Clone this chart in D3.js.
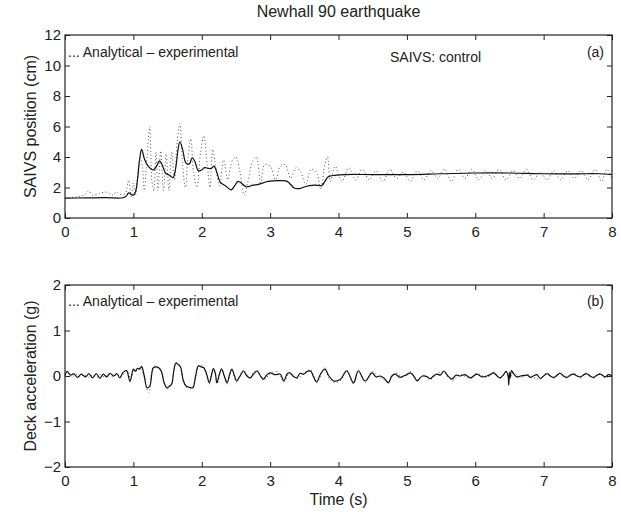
<!DOCTYPE html>
<meta charset="utf-8">
<style>
body { margin: 0; background: #fff; }
text { font-family: "Liberation Sans", Arial, sans-serif; fill: #222; }
.frame { fill: none; stroke: #222; stroke-width: 1.2px; }
.tick line { stroke: #222; }
.solid { fill: none; stroke: #111; stroke-width: 1.2px; }
.dotted { fill: none; stroke: #555; stroke-width: 1px; stroke-dasharray: 1,2.5; }
</style>
<svg width="621" height="512"></svg>
<script src="https://cdn.jsdelivr.net/npm/d3@7"></script>
<script>
var width = 621, height = 512;

// (a) SAIVS position, cm   [time s, value]
var posExperimental = [[0,1.3],[0.3,1.32],[0.6,1.33],[0.85,1.33],[0.9,1.45],[0.93,1.65],[0.97,1.55],[1.0,1.5],[1.03,1.7],
  [1.06,2.5],[1.09,3.8],[1.12,4.5],[1.16,3.9],[1.2,3.5],[1.25,3.25],[1.29,3.15],[1.34,3.4],[1.38,3.75],[1.42,3.5],
  [1.47,2.95],[1.53,2.8],[1.58,2.65],[1.62,3.3],[1.65,4.4],[1.68,5.0],[1.72,4.5],[1.77,3.6],[1.82,3.55],[1.86,3.95],
  [1.9,3.7],[1.95,3.1],[2.0,3.15],[2.04,3.3],[2.1,3.25],[2.14,3.25],[2.18,3.4],[2.22,3.0],[2.27,2.35],[2.35,2.1],
  [2.43,1.85],[2.48,2.1],[2.53,2.4],[2.59,2.25],[2.65,2.05],[2.75,2.15],[2.83,2.2],[2.97,2.4],[3.17,2.45],[3.25,2.4],
  [3.36,1.95],[3.45,1.95],[3.51,2.05],[3.65,2.15],[3.76,2.15],[3.8,2.4],[3.85,2.7],[3.95,2.8],[4.1,2.85],[4.5,2.85],
  [5.0,2.85],[5.5,2.9],[6.0,2.95],[6.5,2.95],[7.0,2.9],[7.5,2.9],[7.8,2.9],[8.0,2.85]];

var posAnalytical = [[0,1.3],[0.1,1.35],[0.2,1.4],[0.3,1.55],[0.35,1.8],[0.4,1.5],[0.5,1.6],[0.6,1.7],[0.7,1.5],[0.75,1.7],
  [0.8,1.55],[0.88,1.6],[0.93,2.5],[0.97,1.4],[1.0,2.3],[1.03,1.5],[1.07,3.0],[1.1,4.0],[1.13,3.5],[1.16,1.8],[1.2,4.0],
  [1.24,6.0],[1.27,2.5],[1.3,1.8],[1.33,4.3],[1.36,1.8],[1.4,4.4],[1.44,1.8],[1.48,4.2],[1.52,1.8],[1.56,4.3],[1.6,2.5],
  [1.64,5.0],[1.68,6.2],[1.72,3.5],[1.76,2.0],[1.8,4.0],[1.84,5.2],[1.88,3.0],[1.93,2.0],[1.98,4.2],[2.03,5.4],[2.08,3.5],
  [2.12,2.0],[2.16,4.5],[2.2,3.5],[2.26,2.1],[2.32,3.8],[2.38,2.5],[2.44,3.7],[2.5,4.0],[2.56,3.0],[2.62,1.5],[2.68,2.5],
  [2.75,3.8],[2.8,4.0],[2.86,2.3],[2.92,3.5],[3.0,3.4],[3.08,2.5],[3.15,3.4],[3.22,3.5],[3.3,2.6],[3.38,3.3],[3.45,3.0],
  [3.52,2.2],[3.6,3.2],[3.68,3.0],[3.74,1.9],[3.8,3.5],[3.84,4.0],[3.88,2.4],[3.95,3.4],[4.05,2.4],[4.15,3.3],[4.25,2.5],
  [4.35,3.2],[4.45,2.5],[4.55,3.1],[4.65,2.4],[4.75,3.2],[4.85,2.6],[4.95,3.0],[5.05,2.4],[5.15,3.1],[5.25,2.5],
  [5.35,3.1],[5.45,2.6],[5.55,3.2],[5.65,2.4],[5.75,3.2],[5.85,2.6],[5.95,3.2],[6.05,2.5],[6.15,3.1],[6.25,2.6],
  [6.35,3.2],[6.45,2.5],[6.55,3.1],[6.65,2.6],[6.75,3.2],[6.85,2.5],[6.95,3.0],[7.05,2.5],[7.15,3.1],[7.25,2.5],
  [7.35,3.1],[7.45,2.6],[7.55,3.1],[7.65,2.5],[7.75,3.2],[7.85,2.4],[7.92,3.2],[8.0,2.6]];

// (b) deck acceleration, g   [time s, value]
var accExperimental = [[0,0],[0.03,0.1],[0.08,0.02],[0.13,0.05],[0.18,-0.03],[0.24,0.04],[0.3,-0.02],[0.35,0.05],
  [0.4,-0.04],[0.46,0.05],[0.51,-0.05],[0.56,0.04],[0.61,-0.02],[0.66,0.06],[0.71,0.0],[0.76,0.05],[0.8,-0.04],
  [0.85,0.08],[0.9,0.12],[0.95,-0.12],[1.0,0.15],[1.03,0.1],[1.06,0.17],[1.09,0.15],[1.12,0.21],[1.16,0.0],[1.2,-0.26],
  [1.24,-0.22],[1.29,0.18],[1.33,0.2],[1.37,0.18],[1.41,0.1],[1.45,-0.15],[1.49,-0.26],[1.53,-0.22],[1.56,-0.18],
  [1.59,0.1],[1.62,0.28],[1.66,0.25],[1.69,0.2],[1.73,-0.1],[1.77,-0.22],[1.82,-0.25],[1.87,-0.26],[1.91,0.0],
  [1.95,0.22],[1.99,0.2],[2.03,0.18],[2.07,0.05],[2.11,-0.15],[2.14,0.0],[2.17,0.16],[2.2,0.05],[2.22,-0.15],[2.26,0.05],
  [2.29,0.15],[2.33,0.0],[2.37,-0.15],[2.41,0.05],[2.44,0.15],[2.48,0.0],[2.51,-0.11],[2.56,0.0],[2.61,0.11],[2.66,0.0],
  [2.71,-0.04],[2.76,0.05],[2.81,0.11],[2.86,0.0],[2.9,-0.07],[2.95,0.02],[3.0,0.07],[3.07,0.03],[3.15,0.04],[3.2,-0.11],
  [3.25,0.05],[3.29,0.07],[3.34,-0.01],[3.39,-0.04],[3.44,0.06],[3.49,0.04],[3.54,0.1],[3.59,0.11],[3.64,-0.03],
  [3.68,-0.13],[3.74,0.05],[3.8,0.15],[3.86,0.0],[3.93,-0.11],[4.03,-0.07],[4.12,0.11],[4.22,-0.15],[4.29,0.11],
  [4.39,-0.11],[4.49,0.07],[4.55,-0.02],[4.61,0.0],[4.67,-0.05],[4.73,-0.15],[4.78,0.0],[4.83,0.04],[4.9,-0.03],
  [4.95,0.0],[5.0,0.03],[5.05,0.07],[5.1,0.0],[5.15,-0.11],[5.2,-0.03],[5.24,0.0],[5.3,-0.02],[5.34,-0.06],[5.39,0.0],
  [5.44,0.04],[5.49,0.02],[5.54,0.11],[5.6,0.0],[5.66,-0.07],[5.72,0.02],[5.78,0.0],[5.85,0.03],[5.93,-0.04],[6.02,0.04],
  [6.1,-0.02],[6.17,0.0],[6.22,0.03],[6.27,0.07],[6.32,0.0],[6.36,-0.04],[6.41,0.02],[6.45,0.1],[6.48,0.0],[6.49,-0.2],
  [6.5,0.08],[6.51,-0.05],[6.53,0.12],[6.56,0.05],[6.61,-0.02],[6.66,0.0],[6.71,0.01],[6.76,0.02],[6.81,-0.03],[6.85,0.0],
  [6.9,0.03],[6.95,-0.05],[7.0,0.0],[7.05,0.05],[7.1,0.0],[7.15,-0.03],[7.2,0.02],[7.24,0.06],[7.29,0.0],[7.34,-0.03],
  [7.39,0.02],[7.44,0.04],[7.49,0.0],[7.54,-0.02],[7.59,0.03],[7.63,0.05],[7.68,0.0],[7.73,-0.03],[7.78,0.02],
  [7.83,0.04],[7.9,-0.02],[7.95,0.03],[8.0,0.0]];

var accAnalytical = [[0,0.02],[0.05,0.06],[0.1,-0.02],[0.16,0.04],[0.22,-0.02],[0.28,0.03],[0.34,-0.03],[0.4,0.02],
  [0.46,-0.03],[0.52,0.03],[0.58,-0.02],[0.64,0.04],[0.7,-0.02],[0.76,0.03],[0.82,-0.02],[0.87,0.06],[0.92,0.1],
  [0.96,-0.1],[1.01,0.13],[1.06,0.15],[1.11,0.18],[1.15,0.02],[1.2,-0.3],[1.23,-0.37],[1.27,0.1],[1.31,0.22],[1.36,0.17],
  [1.41,0.08],[1.46,-0.2],[1.5,-0.28],[1.55,-0.2],[1.6,0.18],[1.63,0.3],[1.68,0.22],[1.72,-0.05],[1.78,-0.25],
  [1.86,-0.24],[1.92,0.05],[1.96,0.24],[2.02,0.2],[2.07,0.02],[2.11,-0.18],[2.16,0.14],[2.2,0.02],[2.23,-0.17],[2.29,0.17],
  [2.33,-0.02],[2.37,-0.18],[2.44,0.13],[2.51,-0.14],[2.61,0.13],[2.71,-0.06],[2.76,0.09],[2.81,0.13],[2.9,-0.1],
  [3.0,0.05],[3.1,0.1],[3.2,-0.13],[3.29,0.08],[3.39,-0.06],[3.49,0.06],[3.59,0.14],[3.68,-0.15],[3.8,0.18],[3.86,-0.05],
  [3.93,-0.14],[4.03,-0.1],[4.12,0.14],[4.22,-0.18],[4.29,0.14],[4.39,-0.14],[4.49,0.1],[4.61,-0.03],[4.73,-0.12],
  [4.83,0.07],[4.95,-0.03],[5.05,0.1],[5.15,-0.08],[5.24,0.02],[5.34,-0.08],[5.44,0.06],[5.54,0.08],[5.66,-0.1],
  [5.78,0.03],[5.93,-0.06],[6.02,0.06],[6.17,-0.03],[6.27,0.09],[6.36,-0.06],[6.45,0.08],[6.5,-0.05],[6.56,0.07],
  [6.66,-0.03],[6.76,0.04],[6.85,-0.03],[6.95,-0.07],[7.05,0.07],[7.15,-0.05],[7.24,0.08],[7.34,-0.05],[7.44,0.06],
  [7.54,-0.04],[7.63,0.07],[7.73,-0.05],[7.83,0.06],[7.9,-0.04],[8.0,0.02]];

var timeTicks = [0,1,2,3,4,5,6,7,8];
var posTicks = [0,2,4,6,8,10,12];
var accTicks = [-2,-1,0,1,2];

var svg = d3.select("svg");
var left = 65, right = 612;

var x = d3.scaleLinear().domain([0, 8]).range([left, right]);
var yPos = d3.scaleLinear().domain([0, 12]).range([218, 35]);
var yAcc = d3.scaleLinear().domain([-2, 2]).range([467, 285]);

function drawPanel(y, yTicks, series, tag, ylabel, legendY) {
  var g = svg.append("g");
  var top = y.range()[1], bottom = y.range()[0];
  var fmt = function(d) { return d < 0 ? "\u2212" + (-d) : d; };

  // inward ticks on all four sides
  g.append("g").attr("class", "tick").attr("transform", "translate(0," + bottom + ")")
    .call(d3.axisBottom(x).tickValues(timeTicks).tickSize(-5).tickPadding(8).tickFormat(fmt));
  g.append("g").attr("class", "tick").attr("transform", "translate(0," + top + ")")
    .call(d3.axisTop(x).tickValues(timeTicks).tickSize(-5).tickFormat(""));
  g.append("g").attr("class", "tick").attr("transform", "translate(" + left + ",0)")
    .call(d3.axisLeft(y).tickValues(yTicks).tickSize(-5).tickPadding(4).tickFormat(fmt));
  g.append("g").attr("class", "tick").attr("transform", "translate(" + right + ",0)")
    .call(d3.axisRight(y).tickValues(yTicks).tickSize(-5).tickFormat(""));
  g.selectAll(".domain").remove();
  g.selectAll(".tick text").style("font-size", "15px").attr("fill", "#222")
    .style("font-family", "'Liberation Sans', Arial, sans-serif");

  var line = d3.line().curve(d3.curveCatmullRom)
    .x(function(d) { return x(d[0]); }).y(function(d) { return y(d[1]); });
  g.append("path").datum(series[1]).attr("class", "dotted").attr("d", line);
  g.append("path").datum(series[0]).attr("class", "solid").attr("d", line);

  g.append("rect").attr("class", "frame")
    .attr("x", left).attr("y", top).attr("width", right - left).attr("height", bottom - top);

  g.append("text").attr("x", 68).attr("y", legendY).style("font-size", "14px")
    .text("... Analytical \u2013 experimental");
  g.append("text").attr("x", 604).attr("y", legendY).attr("text-anchor", "end")
    .style("font-size", "14px").text(tag);

  g.append("text").attr("transform", "translate(36," + ((top + bottom) / 2) + ") rotate(-90)")
    .attr("text-anchor", "middle").style("font-size", "16px").text(ylabel);
}

drawPanel(yPos, posTicks, [posExperimental, posAnalytical], "(a)", "SAIVS position (cm)", 57);
drawPanel(yAcc, accTicks, [accExperimental, accAnalytical], "(b)", "Deck acceleration (g)", 306);

svg.append("text").attr("x", 390).attr("y", 62).style("font-size", "14px").text("SAIVS: control");
svg.append("text").attr("x", (left + right) / 2).attr("y", 17).attr("text-anchor", "middle")
  .style("font-size", "16px").text("Newhall 90 earthquake");
svg.append("text").attr("x", (left + right) / 2).attr("y", 505).attr("text-anchor", "middle")
  .style("font-size", "16px").text("Time (s)");
</script>
